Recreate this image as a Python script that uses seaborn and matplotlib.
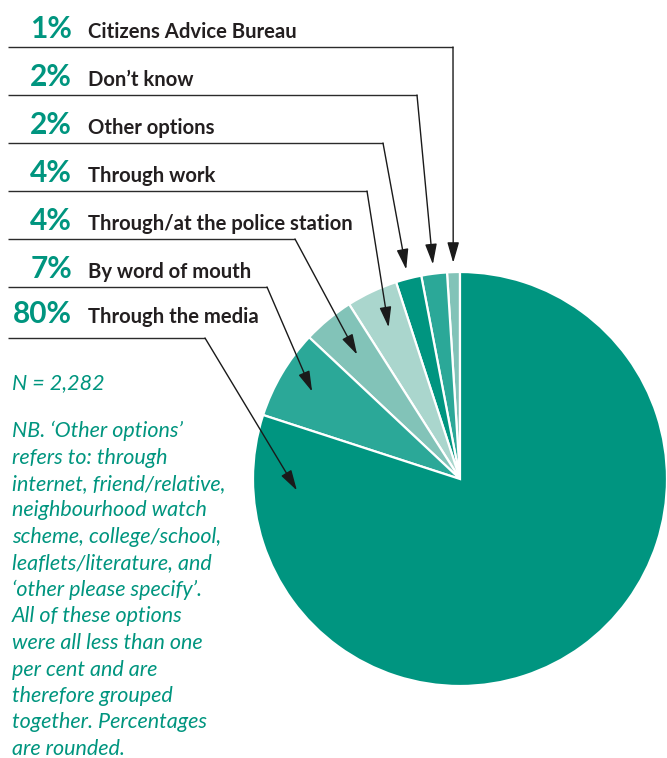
import numpy as np
import matplotlib
matplotlib.use("Agg")
import matplotlib.pyplot as plt
import seaborn as sns

# Survey answers: how respondents heard about the service
labels = ["Citizens Advice Bureau", "Don’t know", "Other options", "Through work",
          "Through/at the police station", "By word of mouth", "Through the media"]
shares = [1, 2, 2, 4, 4, 7, 80]
colors = ["#82c3b8", "#2ba898", "#009580", "#aad6cd", "#82c3b8", "#2ba898", "#009580"]

note_lines = [
    "NB. ‘Other options’",
    "refers to: through",
    "internet, friend/relative,",
    "neighbourhood watch",
    "scheme, college/school,",
    "leaflets/literature, and",
    "‘other please specify’.",
    "All of these options",
    "were all less than one",
    "per cent and are",
    "therefore grouped",
    "together. Percentages",
    "are rounded.",
]
sample_note = "N = 2,282"

W, H = 667, 758
sns.set_theme(style="white")
plt.rcParams["font.family"] = ["Lato", "DejaVu Sans"]

fig = plt.figure(figsize=(W / 100, H / 100), dpi=100)
fig.patch.set_facecolor("white")

# pie axes: centre (460, 479) px, radius 207 px
R = 207
cx, cy = 460, 479
pie_ax = fig.add_axes([(cx - R) / W, (H - cy - R) / H, 2 * R / W, 2 * R / H])
wedges, _ = pie_ax.pie(shares, colors=colors, startangle=90, counterclock=True,
                       radius=1.0, wedgeprops=dict(edgecolor="white", linewidth=1.6))
pie_ax.set_xlim(-1, 1)
pie_ax.set_ylim(-1, 1)
pie_ax.set_aspect("equal")
pie_ax.axis("off")

# overlay in pixel coordinates (origin top-left)
ov = fig.add_axes([0, 0, 1, 1])
ov.set_xlim(0, W)
ov.set_ylim(H, 0)
ov.axis("off")

teal = "#00957f"
ink = "#231f20"
line_col = "#2b2b2b"

line_y = [47, 95, 143, 191, 239, 287, 338]
base_off = [9, 9, 9, 9, 9, 9, 15]
corner_x = [453, 417, 383, 367, 295, 267, 205]
tip_r = [1.045, 1.045, 1.045, 0.81, 0.78, 0.83, 0.79]

for i, (lab, v, w) in enumerate(zip(labels, shares, wedges)):
    yb = line_y[i] - base_off[i]
    ov.text(72, yb, f"{v}%", ha="right", va="baseline", fontsize=21.5,
            fontweight="bold", color=teal)
    ov.text(88, yb, lab, ha="left", va="baseline", fontsize=14.6,
            fontweight="bold", color=ink)
    ov.plot([8, corner_x[i]], [line_y[i], line_y[i]], color=line_col, lw=1.0,
            solid_capstyle="butt")
    if i == len(labels) - 1:
        ang = np.deg2rad(184)
    else:
        ang = np.deg2rad((w.theta1 + w.theta2) / 2)
    tip = (tip_r[i] * np.cos(ang), tip_r[i] * np.sin(ang))
    ov.annotate("", xy=tip, xycoords=pie_ax.transData,
                xytext=(corner_x[i], line_y[i]), textcoords="data",
                arrowprops=dict(arrowstyle="-|>,head_length=1.25,head_width=0.36",
                                mutation_scale=10, color="#1a1a1a", lw=1.0,
                                shrinkA=0, shrinkB=0))

ov.text(12, 389, sample_note, ha="left", va="baseline", fontsize=15.5,
        style="italic", color=teal)
for k, ln in enumerate(note_lines):
    ov.text(12, 437 + 26.5 * k, ln, ha="left", va="baseline", fontsize=15.5,
            style="italic", color=teal)

fig.savefig("out.png", dpi=100, facecolor="white")
